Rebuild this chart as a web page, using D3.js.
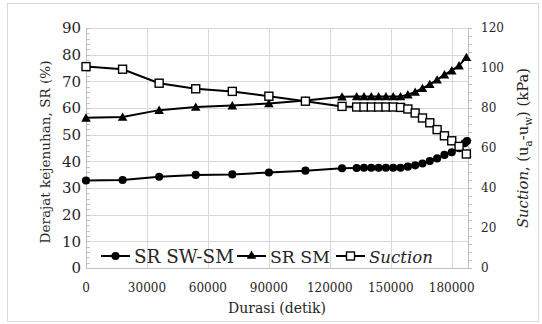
<!DOCTYPE html>
<html><head><meta charset="utf-8">
<script src="https://cdn.jsdelivr.net/npm/d3@7"></script>
<style>body{margin:0;background:#fff}svg{display:block}</style>
</head><body><svg id="c" width="542" height="324"></svg>
<script>
// Data
const xTicks = [0, 30000, 60000, 90000, 120000, 150000, 180000];
const leftTicks = [0, 10, 20, 30, 40, 50, 60, 70, 80, 90];
const rightTicks = [0, 20, 40, 60, 80, 100, 120];
const durasi = [0, 18000, 36000, 54000, 72000, 90000, 108000, 126000, 133200, 136800, 140400, 144000, 147600, 151200, 154800, 158400, 162000, 165600, 169200, 172800, 176400, 180000, 183600, 187200];
const durasiSWSM = [0, 18000, 36000, 54000, 72000, 90000, 108000, 126000, 133200, 136800, 140400, 144000, 147600, 151200, 154800, 158400, 162000, 165600, 169200, 172800, 176400, 180000, 183600, 186300, 187500];
const srSWSM = [32.8, 33.0, 34.2, 34.9, 35.1, 35.8, 36.5, 37.4, 37.5, 37.6, 37.6, 37.6, 37.6, 37.6, 37.6, 38.0, 38.5, 39.2, 40.1, 41.1, 42.4, 43.4, 44.9, 46.8, 47.6];
const srSM = [56.3, 56.6, 59.2, 60.4, 60.9, 61.7, 62.8, 64.2, 64.3, 64.3, 64.3, 64.3, 64.3, 64.3, 64.3, 65.0, 66.0, 67.4, 68.9, 70.6, 72.5, 74.0, 75.9, 79.0];
const suction = [100.7, 99.4, 92.4, 89.6, 88.3, 85.9, 83.4, 80.8, 80.5, 80.5, 80.5, 80.5, 80.5, 80.5, 80.3, 79.5, 77.5, 75.0, 72.6, 69.2, 66.1, 63.6, 60.8, 57.0];

const FONT = "'DejaVu Serif', 'Liberation Serif', serif";
const svg = d3.select("#c").style("font-family", FONT);
const L = 86, R = 468, T = 28, B = 268;
const x = d3.scaleLinear().domain([0, 188000]).range([L, R]);
const yL = d3.scaleLinear().domain([0, 90]).range([B, T]);
const yR = d3.scaleLinear().domain([0, 120]).range([B, T]);
const txt = "#262626";

// fit a text element to a target width by adjusting font size
function fit(sel, target) {
  const n = sel.node();
  const w = n.getComputedTextLength();
  const fs = parseFloat(sel.attr("font-size"));
  if (w > 0) sel.attr("font-size", (fs * target / w).toFixed(2));
  return sel;
}

svg.append("rect").attr("x", 7.5).attr("y", 3.5).attr("width", 531).attr("height", 318)
  .attr("fill", "#fff").attr("stroke", "#d9d9d9").attr("stroke-width", 1);

const grid = "#d9d9d9";
svg.append("g").selectAll("line").data(leftTicks.filter(d => d > 0)).join("line")
  .attr("x1", L).attr("x2", R).attr("y1", d => Math.round(yL(d)) + 0.5).attr("y2", d => Math.round(yL(d)) + 0.5)
  .attr("stroke", grid);
svg.append("g").selectAll("line").data(xTicks.filter(d => d > 0)).join("line")
  .attr("y1", T).attr("y2", B).attr("x1", d => Math.round(x(d)) + 0.5).attr("x2", d => Math.round(x(d)) + 0.5)
  .attr("stroke", grid);

const axisCol = "#bfbfbf";
svg.append("line").attr("x1", L + 0.5).attr("x2", L + 0.5).attr("y1", T).attr("y2", B).attr("stroke", axisCol);
svg.append("line").attr("x1", R + 0.5).attr("x2", R + 0.5).attr("y1", T).attr("y2", B).attr("stroke", axisCol);
svg.append("line").attr("x1", L).attr("x2", R).attr("y1", B + 0.5).attr("y2", B + 0.5).attr("stroke", axisCol);

svg.append("g").selectAll("line").data(d3.range(0, 91, 2)).join("line")
  .attr("x1", L).attr("x2", L + 4).attr("y1", d => Math.round(yL(d)) + 0.5).attr("y2", d => Math.round(yL(d)) + 0.5)
  .attr("stroke", axisCol);
svg.append("g").selectAll("line").data(d3.range(0, 121, 4)).join("line")
  .attr("x1", R).attr("x2", R + 4).attr("y1", d => Math.round(yR(d)) + 0.5).attr("y2", d => Math.round(yR(d)) + 0.5)
  .attr("stroke", axisCol);

svg.append("g").selectAll("text").data(leftTicks).join("text")
  .attr("x", 81).attr("y", d => yL(d)).attr("dy", "0.35em").attr("text-anchor", "end")
  .attr("font-size", 15).attr("fill", txt).text(d => d);
svg.append("g").selectAll("text").data(rightTicks).join("text")
  .attr("x", 481).attr("y", d => yR(d)).attr("dy", "0.35em").attr("text-anchor", "start")
  .attr("font-size", 12).attr("fill", txt).text(d => d);
svg.append("g").selectAll("text").data(xTicks).join("text")
  .attr("x", d => x(d)).attr("y", 292).attr("text-anchor", "middle")
  .attr("font-size", 12).attr("fill", txt).text(d => d);

fit(svg.append("text").attr("x", 277).attr("y", 313).attr("text-anchor", "middle").attr("font-size", 16).attr("fill", txt).text("Durasi (detik)"), 98);
fit(svg.append("text").attr("transform", "translate(50,152) rotate(-90)").attr("text-anchor", "middle")
  .attr("font-size", 16).attr("fill", txt).text("Derajat kejenuhan, SR (%)"), 183);
const rt = svg.append("text").attr("transform", "translate(528,148) rotate(-90)").attr("text-anchor", "middle").attr("font-size", 16).attr("fill", txt);
rt.append("tspan").attr("font-style", "italic").text("Suction");
rt.append("tspan").text(", (u");
rt.append("tspan").attr("font-size", "70%").attr("dy", 4).text("a");
rt.append("tspan").attr("dy", -4).text("-u");
rt.append("tspan").attr("font-size", "70%").attr("dy", 4).text("w");
rt.append("tspan").attr("dy", -4).text(") (kPa)");
fit(rt, 160);

const line = (xs, ys, yScale) => d3.line().x((d, i) => x(xs[i])).y(d => yScale(d))(ys);
const circleSym = d3.symbol().type(d3.symbolCircle).size(52);
const triSym = d3.symbol().type(d3.symbolTriangle).size(40);

svg.append("path").attr("d", line(durasiSWSM, srSWSM, yL)).attr("fill", "none").attr("stroke", "#000").attr("stroke-width", 2);
svg.append("g").selectAll("path").data(srSWSM).join("path")
  .attr("transform", (d, i) => `translate(${x(durasiSWSM[i])},${yL(d)})`).attr("d", circleSym()).attr("fill", "#000");

svg.append("path").attr("d", line(durasi, srSM, yL)).attr("fill", "none").attr("stroke", "#000").attr("stroke-width", 2);
svg.append("g").selectAll("path").data(srSM).join("path")
  .attr("transform", (d, i) => `translate(${x(durasi[i])},${yL(d) + 1})`).attr("d", triSym()).attr("fill", "#000");

svg.append("path").attr("d", line(durasi, suction, yR)).attr("fill", "none").attr("stroke", "#000").attr("stroke-width", 2);
svg.append("g").selectAll("rect").data(suction).join("rect")
  .attr("x", (d, i) => x(durasi[i]) - 4).attr("y", d => yR(d) - 4).attr("width", 8).attr("height", 8)
  .attr("fill", "#fff").attr("stroke", "#000").attr("stroke-width", 1.4);

const ly = 256;
const leg = svg.append("g");
const items = [
  {x0: 101, label: "SR SW-SM", type: "circle", italic: false, w: 100},
  {x0: 237, label: "SR SM", type: "tri", italic: false, w: 60},
  {x0: 336, label: "Suction", type: "sq", italic: true, w: 64}
];
items.forEach(it => {
  leg.append("line").attr("x1", it.x0).attr("x2", it.x0 + 29).attr("y1", ly).attr("y2", ly).attr("stroke", "#000").attr("stroke-width", 2);
  const cx = it.x0 + 14.5;
  if (it.type === "circle") leg.append("path").attr("transform", `translate(${cx},${ly})`).attr("d", circleSym()).attr("fill", "#000");
  if (it.type === "tri") leg.append("path").attr("transform", `translate(${cx},${ly})`).attr("d", triSym()).attr("fill", "#000");
  if (it.type === "sq") leg.append("rect").attr("x", cx - 4).attr("y", ly - 4).attr("width", 8).attr("height", 8).attr("fill", "#fff").attr("stroke", "#000").attr("stroke-width", 1.4);
  fit(leg.append("text").attr("x", it.x0 + 33).attr("y", ly + 7).attr("font-size", 18).attr("fill", txt)
    .attr("font-style", it.italic ? "italic" : "normal").text(it.label), it.w);
});
</script></body></html>
